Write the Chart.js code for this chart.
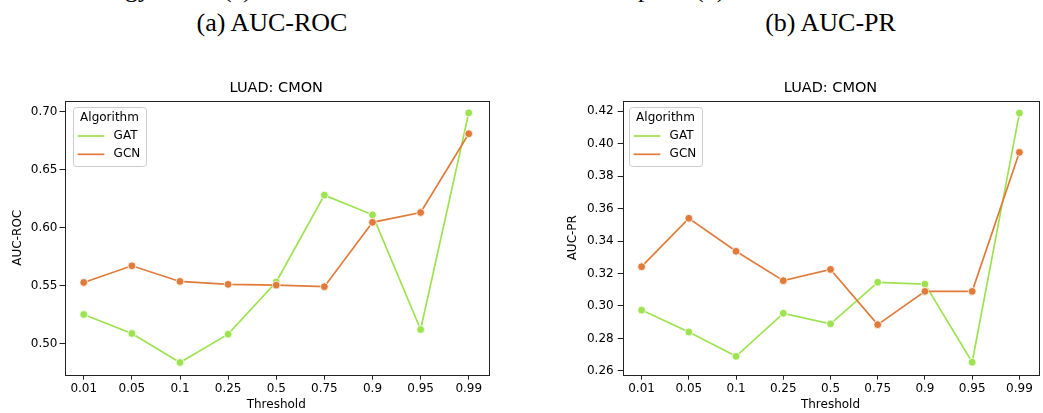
<!DOCTYPE html>
<html lang="en">
<head>
    <meta charset="UTF-8">
    <title>LUAD: CMON</title>
    <style>
        body {
            margin: 0;
            width: 1043px;
            height: 413px;
            position: relative;
            overflow: hidden;
            background: #fff;
        }
        .caption {
            position: absolute;
            font-family: 'Liberation Serif', serif;
            font-size: 26px;
            line-height: 26px;
            color: #000;
            white-space: nowrap;
        }
        canvas {
            position: absolute;
        }
    </style>
    <script src="https://cdn.jsdelivr.net/npm/chart.js"></script>
</head>
<body>
    <!-- tail of the caption row above -->
    <span class="caption" style="left:125px; top:-24px;">gy</span>
    <span class="caption" style="left:223px; top:-24px;">(a)</span>
    <span class="caption" style="left:638px; top:-24px;">p</span>
    <span class="caption" style="left:695px; top:-24px;">(b)</span>

    <div class="caption" style="left:0; width:544px; text-align:center; top:10px;">(a) AUC-ROC</div>
    <div class="caption" style="left:618px; width:425px; text-align:center; top:10px;">(b) AUC-PR</div>

    <canvas id="rocChart" width="500" height="343" style="left:0; top:70px;"></canvas>
    <canvas id="prChart" width="503" height="343" style="left:540px; top:70px;"></canvas>

    <script>
        const thresholds = ['0.01', '0.05', '0.1', '0.25', '0.5', '0.75', '0.9', '0.95', '0.99'];

        // AUC-ROC per threshold
        const rocGAT = [0.525, 0.5086, 0.4836, 0.508, 0.553, 0.628, 0.611, 0.512, 0.699];
        const rocGCN = [0.5526, 0.567, 0.5535, 0.551, 0.5503, 0.549, 0.6045, 0.613, 0.681];

        // AUC-PR per threshold
        const prGAT = [0.2975, 0.284, 0.269, 0.2955, 0.289, 0.3146, 0.3135, 0.2654, 0.4188];
        const prGCN = [0.3242, 0.354, 0.3337, 0.3156, 0.3225, 0.2885, 0.309, 0.309, 0.3946];

        const FONT = 'DejaVu Sans';
        const GAT_COLOR = '#9de24f';
        const GCN_COLOR = '#e07b39';

        // box around the whole plot area (all four spines)
        const framePlugin = {
            id: 'frame',
            afterDatasetsDraw(chart) {
                const { ctx, chartArea } = chart;
                ctx.save();
                ctx.strokeStyle = '#222';
                ctx.lineWidth = 1;
                ctx.strokeRect(Math.round(chartArea.left) + 0.5, Math.round(chartArea.top) + 0.5,
                    Math.round(chartArea.right - chartArea.left), Math.round(chartArea.bottom - chartArea.top));
                ctx.restore();
            }
        };

        // legend box in the upper left corner of the plot, with a title
        const boxLegend = {
            id: 'boxLegend',
            afterDraw(chart, args, opts) {
                const { ctx, chartArea } = chart;
                const x = Math.round(chartArea.left + opts.dx);
                const y = Math.round(chartArea.top + 6);
                const w = 73, h = 59;
                ctx.save();
                ctx.beginPath();
                ctx.roundRect(x + 0.5, y + 0.5, w, h, 3);
                ctx.fillStyle = 'rgba(255,255,255,0.8)';
                ctx.fill();
                ctx.strokeStyle = '#cccccc';
                ctx.lineWidth = 1;
                ctx.stroke();

                ctx.font = '12px "' + FONT + '"';
                ctx.fillStyle = '#000';
                ctx.textBaseline = 'middle';
                ctx.textAlign = 'center';
                ctx.fillText(opts.title, x + w / 2, y + 11);

                ctx.textAlign = 'left';
                chart.data.datasets.forEach((ds, i) => {
                    const ly = y + 29 + i * 18.3;
                    ctx.strokeStyle = ds.borderColor;
                    ctx.lineWidth = 1.7;
                    ctx.beginPath();
                    ctx.moveTo(x + 4.6, ly);
                    ctx.lineTo(x + 31.3, ly);
                    ctx.stroke();
                    ctx.fillText(ds.label, x + 40.6, ly);
                });
                ctx.restore();
            }
        };

        function series(label, values, color, order) {
            return {
                label: label,
                data: values.map((v, i) => ({ x: i, y: v })),
                borderColor: color,
                backgroundColor: color,
                borderWidth: 1.7,
                pointRadius: 3.9,
                pointBorderColor: '#fff',
                pointBorderWidth: 0.8,
                pointHoverRadius: 3.9,
                tension: 0,
                order: order
            };
        }

        function makeChart(id, cfg) {
            const tickMarks = {
                display: true,
                drawOnChartArea: false,
                drawTicks: true,
                tickLength: 5,
                color: '#222',
                lineWidth: 1
            };
            return new Chart(document.getElementById(id), {
                type: 'line',
                data: {
                    datasets: [
                        series('GAT', cfg.gat, GAT_COLOR, 1),
                        series('GCN', cfg.gcn, GCN_COLOR, 0)
                    ]
                },
                options: {
                    responsive: false,
                    animation: false,
                    devicePixelRatio: 1,
                    layout: { padding: { left: 0, top: 0, bottom: 0, right: cfg.padRight } },
                    plugins: {
                        legend: { display: false },
                        tooltip: { enabled: false },
                        title: {
                            display: true,
                            text: 'LUAD: CMON',
                            fullSize: false,
                            color: '#000',
                            font: { family: FONT, size: 14.5, weight: 'normal' },
                            padding: { top: 9.6, bottom: 3.7 }
                        },
                        boxLegend: { title: 'Algorithm', dx: cfg.legendDx }
                    },
                    scales: {
                        x: {
                            type: 'linear',
                            min: -0.4,
                            max: thresholds.length - 1 + 0.4,
                            grid: tickMarks,
                            border: { display: false },
                            ticks: {
                                stepSize: 1,
                                includeBounds: false,
                                autoSkip: false,
                                maxRotation: 0,
                                padding: 2,
                                color: '#000',
                                font: { family: FONT, size: 12 },
                                callback: v => thresholds[v]
                            },
                            title: {
                                display: true,
                                text: 'Threshold',
                                color: '#000',
                                font: { family: FONT, size: 12 },
                                padding: { top: 0, bottom: 0.8 }
                            },
                            afterFit: s => { s.height = 38.3; }
                        },
                        y: {
                            min: cfg.yMin,
                            max: cfg.yMax,
                            grid: tickMarks,
                            border: { display: false },
                            ticks: {
                                stepSize: cfg.step,
                                includeBounds: false,
                                padding: cfg.tickPad,
                                color: '#000',
                                font: { family: FONT, size: 12 },
                                callback: v => v.toFixed(2)
                            },
                            title: {
                                display: true,
                                text: cfg.yLabel,
                                color: '#000',
                                font: { family: FONT, size: 12 },
                                padding: { top: cfg.yTitlePad, bottom: 0 }
                            },
                            afterFit: s => { s.width = cfg.yWidth; }
                        }
                    }
                },
                plugins: [framePlugin, boxLegend]
            });
        }

        makeChart('rocChart', {
            gat: rocGAT,
            gcn: rocGCN,
            yLabel: 'AUC-ROC',
            yMin: 0.473,
            yMax: 0.7095,
            step: 0.05,
            yWidth: 64.5,
            yTitlePad: 11.1,
            tickPad: 2,
            padRight: 12,
            legendDx: 8.2
        });

        makeChart('prChart', {
            gat: prGAT,
            gcn: prGCN,
            yLabel: 'AUC-PR',
            yMin: 0.2577,
            yMax: 0.4264,
            step: 0.02,
            yWidth: 82.7,
            yTitlePad: 26.1,
            tickPad: 4,
            padRight: 2,
            legendDx: 6.6
        });
    </script>
</body>
</html>
